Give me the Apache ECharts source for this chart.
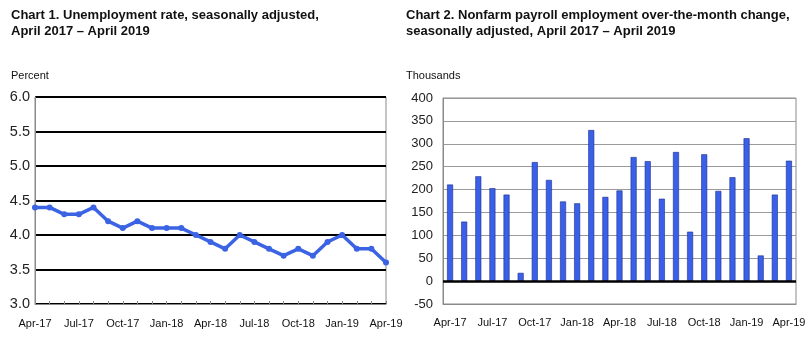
<!DOCTYPE html>
<html><head><meta charset="utf-8">
<script src="https://cdn.jsdelivr.net/npm/echarts@6/dist/echarts.min.js"></script>
<style>html,body{margin:0;padding:0;background:#fff}#c{width:810px;height:343px}</style>
</head><body><div id="c"></div>
<script>
const months = ["Apr-17","May-17","Jun-17","Jul-17","Aug-17","Sep-17","Oct-17","Nov-17","Dec-17","Jan-18","Feb-18","Mar-18","Apr-18","May-18","Jun-18","Jul-18","Aug-18","Sep-18","Oct-18","Nov-18","Dec-18","Jan-19","Feb-19","Mar-19","Apr-19"];
const unemploymentRate = [4.4,4.4,4.3,4.3,4.4,4.2,4.1,4.2,4.1,4.1,4.1,4.0,3.9,3.8,4.0,3.9,3.8,3.7,3.8,3.7,3.9,4.0,3.8,3.8,3.6];
const payrollChange = [211,130,229,203,189,18,260,221,174,170,330,184,198,271,262,180,282,108,277,197,227,312,56,189,263];
const title1 = "Chart 1. Unemployment rate, seasonally adjusted,\nApril 2017 – April 2019";
const title2 = "Chart 2. Nonfarm payroll employment over-the-month change,\nseasonally adjusted, April 2017 – April 2019";

const FONT = "Liberation Sans, Arial, sans-serif";
const chart = echarts.init(document.getElementById('c'), null, {renderer:'canvas'});
const titleStyle = {fontFamily:FONT, fontSize:13, fontWeight:'bold', color:'#111', lineHeight:16};
const unitStyle = {fontFamily:FONT, fontSize:11, fontWeight:'normal', color:'#111'};
chart.setOption({
  animation:false,
  title:[
    {text:title1, left:6, top:2, textStyle:titleStyle},
    {text:title2, left:401, top:2, textStyle:titleStyle},
    {text:"Percent", left:6, top:65, textStyle:unitStyle},
    {text:"Thousands", left:401, top:65, textStyle:unitStyle}
  ],
  grid:[
    {left:35, right:424, top:97, bottom:39, show:true, borderColor:'#8a8a8a', borderWidth:1},
    {left:443, right:14, top:98, bottom:39, show:true, borderColor:'#8a8a8a', borderWidth:1}
  ],
  xAxis:[
    {gridIndex:0, type:'category', data:months, boundaryGap:false,
     axisLine:{lineStyle:{color:'#8a8a8a', width:1}},
     axisTick:{show:true, inside:true, length:3, interval:0, lineStyle:{color:'#8a8a8a'}},
     axisLabel:{interval:2, fontFamily:FONT, fontSize:11, color:'#111', margin:14}},
    {gridIndex:1, type:'category', data:months, boundaryGap:true,
     axisLine:{onZero:false, lineStyle:{color:'#8a8a8a', width:1}},
     axisTick:{show:false},
     axisLabel:{interval:2, fontFamily:FONT, fontSize:11, color:'#111', margin:13}}
  ],
  yAxis:[
    {gridIndex:0, type:'value', min:3, max:6, interval:0.5,
     axisLine:{show:true, lineStyle:{color:'#8a8a8a'}}, axisTick:{show:false},
     axisLabel:{formatter:v=>v.toFixed(1), fontFamily:FONT, fontSize:14.5, color:'#222', margin:5},
     splitLine:{show:true, lineStyle:{color:'#000', width:2}}},
    {gridIndex:1, type:'value', min:-50, max:400, interval:50,
     axisLine:{show:true, lineStyle:{color:'#8a8a8a'}}, axisTick:{show:false},
     axisLabel:{fontFamily:FONT, fontSize:13, color:'#222', margin:10},
     splitLine:{show:true, lineStyle:{color:'#9a9a9a', width:1}}}
  ],
  series:[
    {type:'line', xAxisIndex:0, yAxisIndex:0, data:unemploymentRate,
     lineStyle:{color:'#3b63e4', width:3.5}, itemStyle:{color:'#3b63e4'},
     symbol:'circle', symbolSize:6, z:5},
    {type:'bar', xAxisIndex:1, yAxisIndex:1, data:payrollChange, barWidth:6,
     itemStyle:{color:'#3a5fe8', borderColor:'#1c2f8a', borderWidth:0.6},
     markLine:{silent:true, symbol:'none', label:{show:false},
       lineStyle:{color:'#000', width:2.5, type:'solid'}, data:[{yAxis:0}]}, z:3}
  ]
});
</script></body></html>
